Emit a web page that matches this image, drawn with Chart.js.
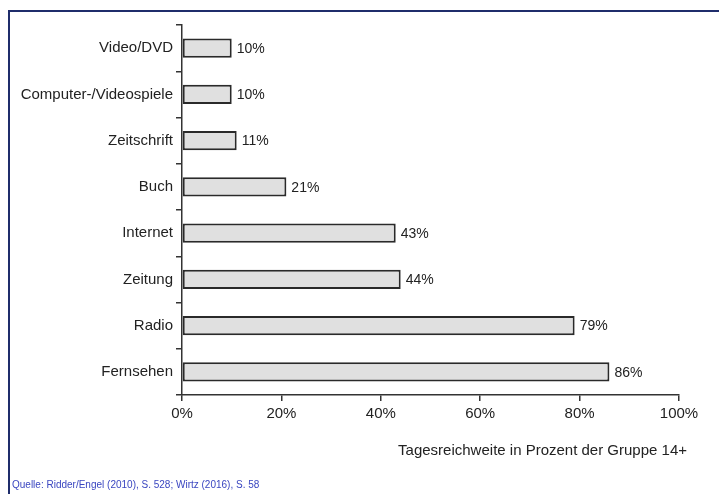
<!DOCTYPE html>
<html><head><meta charset="utf-8">
<script src="https://cdn.jsdelivr.net/npm/chart.js@4/dist/chart.umd.min.js"></script>
<style>
html,body{margin:0;padding:0;background:#fff;}
#wrap{position:relative;width:719px;height:494px;}
#frame{position:absolute;left:8px;top:10px;right:0;bottom:0;border-top:2px solid #1f2d6b;border-left:2px solid #1f2d6b;pointer-events:none;}
canvas{position:absolute;left:0;top:0;}
</style></head>
<body>
<div id="wrap"><canvas id="c" width="719" height="494"></canvas><div id="frame"></div></div>
<script>
const categories = ["Video/DVD","Computer-/Videospiele","Zeitschrift","Buch","Internet","Zeitung","Radio","Fernsehen"];
const values = [10,10,11,21,43,44,79,86];
const xTicks = [0,20,40,60,80,100];
const axisTitle = "Tagesreichweite in Prozent der Gruppe 14+";
const sourceText = "Quelle: Ridder/Engel (2010), S. 528; Wirtz (2016), S. 58";

const FONT = "Arial, 'Liberation Sans', sans-serif";

const extras = {
  id: 'extras',
  afterDatasetsDraw(chart) {
    const ctx = chart.ctx;
    const meta = chart.getDatasetMeta(0);
    ctx.save();
    ctx.font = "14px " + FONT;
    ctx.fillStyle = "#222";
    ctx.textBaseline = "middle";
    ctx.textAlign = "left";
    meta.data.forEach((bar, i) => {
      ctx.fillText(values[i] + "%", bar.x + 5, bar.y + 1);
    });
    ctx.restore();
  },
  afterDraw(chart) {
    const ctx = chart.ctx;
    const xs = chart.scales.x;
    ctx.save();
    ctx.font = "15px " + FONT;
    ctx.fillStyle = "#222";
    ctx.textAlign = "right";
    ctx.textBaseline = "middle";
    ctx.fillText(axisTitle, xs.right + 8, 451);
    ctx.font = "10px " + FONT;
    ctx.fillStyle = "#3a46c0";
    ctx.textAlign = "left";
    ctx.fillText(sourceText, 12, 485);
    ctx.restore();
  }
};

new Chart(document.getElementById('c'), {
  type: 'bar',
  data: {
    labels: categories,
    datasets: [{
      data: values,
      backgroundColor: '#e0e0e0',
      borderColor: '#2a2a2a',
      borderWidth: 2,
      borderSkipped: false,
      barPercentage: 0.42,
      categoryPercentage: 1.0
    }]
  },
  options: {
    indexAxis: 'y',
    responsive: false,
    animation: false,
    devicePixelRatio: 1,
    layout: { padding: { left: 0, right: 40, top: 25, bottom: 69 } },
    plugins: { legend: { display: false }, tooltip: { enabled: false } },
    scales: {
      y: {
        afterFit(s) { s.width = 182; },
        grid: { display: true, drawOnChartArea: false, tickLength: 6, color: '#333', lineWidth: 1.5, offset: true },
        border: { display: true, color: '#333', width: 1.5 },
        ticks: { color: '#222', font: { size: 15, family: FONT }, padding: 3 }
      },
      x: {
        min: 0, max: 100,
        afterFit(s) { s.height = 30; },
        afterBuildTicks(s) { s.ticks = xTicks.map(v => ({ value: v })); },
        grid: { display: true, drawOnChartArea: false, tickLength: 6, color: '#333', lineWidth: 1.5 },
        border: { display: true, color: '#333', width: 1.5 },
        ticks: { color: '#222', font: { size: 15, family: FONT }, padding: 4, callback: v => v + '%' }
      }
    }
  },
  plugins: [extras]
});
</script>
</body></html>
